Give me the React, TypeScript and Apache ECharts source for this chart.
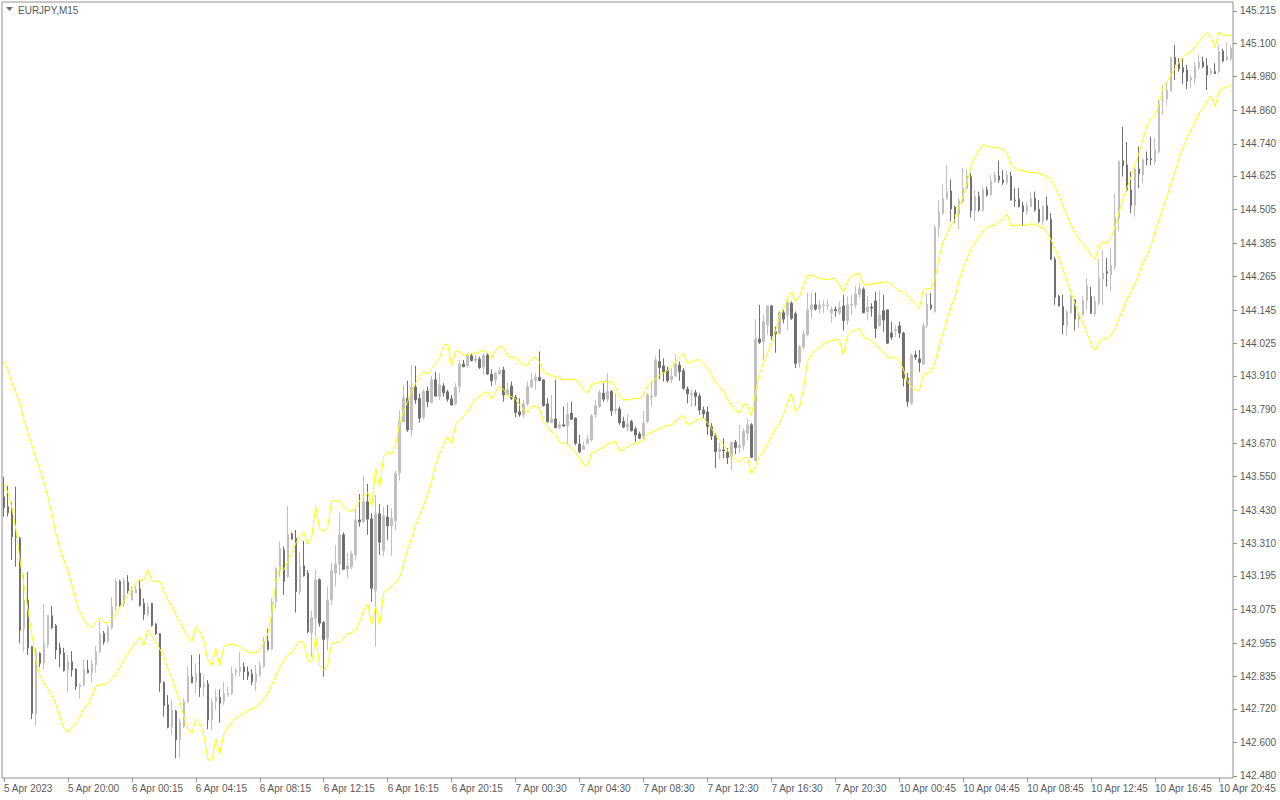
import React, { useEffect, useRef } from "react";
import * as echarts from "echarts";

// ---- Data (EURJPY, M15) ----
const opens = [
143.478,143.443,143.423,143.338,143.329,143.007,143.107,142.942,142.701,142.918,142.883,142.949,143.053,143.017,142.938,142.920,142.859,142.888,142.862,142.799,
142.804,142.859,142.849,142.878,142.924,142.990,142.963,143.009,143.085,143.175,143.095,143.173,143.109,143.135,143.149,143.097,143.058,143.097,143.023,142.988,
142.815,142.734,142.654,142.712,142.609,142.656,142.745,142.835,142.817,142.847,142.799,142.809,142.680,142.746,142.761,142.746,142.769,142.775,142.849,142.853,
142.869,142.852,142.845,142.817,142.838,142.871,142.962,142.933,143.103,143.216,143.288,143.192,143.345,143.330,143.139,143.231,143.204,142.992,143.044,143.181,
143.028,142.972,143.109,143.205,143.237,143.342,143.219,143.228,143.270,143.395,143.389,143.460,143.399,143.143,143.417,143.285,143.405,143.374,143.392,143.564,
143.747,143.830,143.717,143.870,143.830,143.762,143.856,143.815,143.896,143.836,143.874,143.853,143.828,143.810,143.872,143.953,143.946,143.982,143.965,143.970,
143.941,143.985,143.916,143.896,143.917,143.931,143.842,143.874,143.834,143.782,143.771,143.810,143.870,143.893,143.905,143.896,143.810,143.743,143.756,143.725,
143.735,143.731,143.777,143.759,143.667,143.648,143.669,143.681,143.771,143.800,143.848,143.827,143.854,143.786,143.792,143.747,143.727,143.747,143.720,143.703,
143.693,143.747,143.834,143.838,143.961,143.946,143.929,143.896,143.910,143.949,143.929,143.863,143.844,143.850,143.838,143.788,143.781,143.729,143.697,143.639,
143.645,143.636,143.622,143.673,143.654,143.661,143.705,143.735,143.607,144.042,144.033,144.092,144.160,144.068,144.063,144.136,144.128,144.170,144.132,143.958,
144.013,144.057,144.146,144.164,144.149,144.161,144.161,144.134,144.148,144.136,144.160,144.108,144.163,144.164,144.201,144.220,144.140,144.156,144.178,144.089,
144.143,144.146,144.063,144.072,144.089,144.063,143.902,143.812,143.985,143.971,143.953,144.089,144.164,144.140,144.441,144.492,144.544,144.571,144.513,144.489,
144.533,144.581,144.622,144.501,144.551,144.503,144.575,144.559,144.605,144.625,144.611,144.601,144.625,144.539,144.542,144.518,144.497,144.515,144.545,144.506,
144.462,144.518,144.470,144.327,144.194,144.158,144.089,144.136,144.182,144.113,144.128,144.179,144.194,144.132,144.170,144.256,144.283,144.271,144.301,144.474,
144.679,144.664,144.575,144.519,144.650,144.628,144.686,144.686,144.676,144.712,144.893,144.900,144.929,145.048,145.028,145.012,145.004,144.968,144.972,145.012,
145.033,145.019,144.992,144.998,144.998,145.072,145.040,145.043
];
const closes = [
143.439,143.421,143.335,143.332,143.000,143.107,142.938,142.704,142.920,142.883,142.954,143.053,143.010,142.930,142.916,142.857,142.888,142.859,142.799,142.806,
142.862,142.849,142.881,142.926,142.988,142.959,143.012,143.085,143.175,143.091,143.178,143.141,143.143,143.145,143.089,143.058,143.085,143.018,142.988,142.813,
142.732,142.654,142.716,142.609,142.673,142.745,142.835,142.813,142.845,142.797,142.809,142.680,142.742,142.761,142.740,142.775,142.778,142.847,142.857,142.869,
142.853,142.838,142.817,142.845,142.874,142.962,142.933,143.102,143.222,143.292,143.175,143.342,143.327,143.139,143.228,143.195,142.996,143.046,143.181,143.026,
142.968,143.109,143.214,143.238,143.342,143.219,143.231,143.273,143.395,143.388,143.460,143.398,143.151,143.417,143.316,143.410,143.374,143.400,143.560,143.749,
143.832,143.717,143.870,143.824,143.759,143.854,143.818,143.896,143.838,143.878,143.850,143.827,143.806,143.870,143.953,143.943,143.982,143.965,143.973,143.940,
143.985,143.917,143.893,143.920,143.929,143.842,143.860,143.830,143.779,143.771,143.810,143.872,143.896,143.905,143.893,143.804,143.747,143.756,143.725,143.735,
143.731,143.774,143.755,143.669,143.639,143.660,143.684,143.767,143.803,143.850,143.827,143.854,143.785,143.792,143.743,143.727,143.738,143.714,143.699,143.687,
143.741,143.842,143.838,143.967,143.940,143.925,143.893,143.910,143.953,143.925,143.866,143.846,143.848,143.836,143.788,143.774,143.729,143.695,143.639,143.648,
143.642,143.618,143.673,143.654,143.662,143.711,143.735,143.619,144.042,144.030,144.104,144.160,144.053,144.060,144.136,144.113,144.172,144.116,143.955,144.013,
144.060,144.146,144.164,144.149,144.164,144.164,144.164,144.149,144.143,144.156,144.108,144.164,144.165,144.203,144.223,144.136,144.156,144.152,144.080,144.128,
144.110,144.027,144.048,144.077,144.063,143.902,143.818,143.985,143.977,143.958,144.089,144.167,144.152,144.441,144.497,144.545,144.569,144.507,144.489,144.536,
144.581,144.625,144.501,144.551,144.503,144.575,144.557,144.607,144.628,144.611,144.601,144.628,144.539,144.537,144.515,144.497,144.518,144.545,144.503,144.462,
144.515,144.470,144.327,144.191,144.160,144.092,144.140,144.194,144.113,144.128,144.179,144.232,144.134,144.176,144.259,144.277,144.276,144.304,144.476,144.676,
144.662,144.575,144.519,144.650,144.633,144.682,144.683,144.683,144.718,144.893,144.897,144.932,145.048,145.024,145.008,144.996,144.964,144.976,145.016,145.033,
145.016,144.986,145.000,144.991,145.069,145.036,145.051,145.081
];
const lows = [
143.407,143.407,143.252,143.228,142.954,142.924,142.912,142.683,142.659,142.869,142.862,142.938,143.005,142.897,142.869,142.853,142.781,142.835,142.787,142.757,
142.799,142.847,142.813,142.849,142.918,142.949,142.955,143.002,143.073,143.085,143.085,143.133,143.107,143.133,143.085,143.038,143.049,143.014,142.984,142.781,
142.692,142.650,142.626,142.543,142.543,142.650,142.740,142.811,142.775,142.763,142.763,142.647,142.644,142.716,142.670,142.734,142.763,142.769,142.835,142.835,
142.823,142.823,142.805,142.785,142.835,142.865,142.928,142.930,143.079,143.192,143.127,143.187,143.324,143.064,143.127,143.192,142.990,142.906,142.978,143.014,
142.835,142.930,143.091,143.157,143.198,143.216,143.190,143.219,143.252,143.371,143.383,143.342,143.103,142.942,143.270,143.266,143.324,143.266,143.359,143.536,
143.741,143.710,143.693,143.810,143.743,143.753,143.798,143.812,143.836,143.824,143.836,143.818,143.804,143.806,143.850,143.941,143.938,143.961,143.958,143.934,
143.914,143.914,143.874,143.878,143.914,143.818,143.838,143.824,143.762,143.764,143.759,143.803,143.866,143.860,143.892,143.800,143.743,143.741,143.723,143.720,
143.729,143.667,143.753,143.663,143.634,143.645,143.667,143.675,143.759,143.795,143.818,143.818,143.767,143.774,143.735,143.723,143.711,143.711,143.675,143.684,
143.681,143.741,143.800,143.834,143.898,143.890,143.886,143.884,143.905,143.893,143.860,143.812,143.800,143.803,143.771,143.759,143.699,143.681,143.580,143.612,
143.616,143.595,143.571,143.631,143.634,143.643,143.681,143.616,143.604,144.024,143.967,144.057,144.039,143.993,144.057,144.098,144.074,144.110,143.938,143.941,
144.003,144.051,144.116,144.143,144.132,144.134,144.146,144.101,144.122,144.128,144.072,144.092,144.128,144.152,144.191,144.134,144.108,144.122,144.045,144.086,
144.068,144.024,144.039,144.048,144.045,143.872,143.800,143.806,143.967,143.925,143.949,144.081,144.146,144.136,144.406,144.485,144.539,144.462,144.458,144.434,
144.527,144.575,144.477,144.462,144.497,144.497,144.551,144.553,144.599,144.601,144.593,144.593,144.537,144.515,144.513,144.446,144.485,144.513,144.497,144.456,
144.450,144.465,144.325,144.164,144.158,144.060,144.053,144.132,144.072,144.081,144.124,144.146,144.132,144.122,144.164,144.164,144.229,144.211,144.289,144.426,
144.623,144.569,144.492,144.479,144.581,144.599,144.664,144.664,144.664,144.706,144.843,144.879,144.926,144.968,144.998,144.953,144.936,144.938,144.953,145.004,
145.010,144.932,144.986,144.989,144.992,145.031,145.036,145.036
];
const highs = [
143.550,143.517,143.456,143.514,143.335,143.198,143.210,142.945,142.938,142.922,143.094,143.055,143.087,143.023,142.956,142.938,142.912,142.926,142.865,142.811,
142.897,142.895,142.895,142.945,143.035,142.998,143.020,143.119,143.187,143.181,143.187,143.198,143.157,143.160,143.181,143.115,143.099,143.099,143.026,142.991,
142.817,142.769,142.752,142.716,142.686,142.757,142.871,142.912,142.883,142.915,142.841,142.823,142.757,142.790,142.790,142.817,142.799,142.871,142.865,142.924,
142.885,142.871,142.862,142.877,142.889,142.978,143.006,143.115,143.226,143.318,143.300,143.446,143.350,143.359,143.282,143.320,143.216,143.071,143.219,143.187,
143.034,143.157,143.242,143.306,143.421,143.350,143.276,143.285,143.434,143.488,143.553,143.524,143.419,143.485,143.452,143.443,143.449,143.437,143.571,143.788,
143.878,143.893,143.949,143.946,143.848,143.862,143.872,143.910,143.925,143.920,143.884,143.860,143.842,143.884,143.967,143.967,143.991,143.991,143.985,143.979,
143.991,143.991,143.934,143.925,143.941,143.943,143.886,143.890,143.842,143.830,143.824,143.890,143.920,143.920,143.997,143.898,143.830,143.842,143.896,143.747,
143.800,143.815,143.818,143.762,143.699,143.675,143.699,143.774,143.824,143.860,143.884,143.920,143.860,143.848,143.800,143.764,143.771,143.753,143.729,143.711,
143.786,143.848,143.890,143.982,144.006,143.973,143.943,143.938,143.985,143.961,143.938,143.872,143.860,143.860,143.848,143.800,143.800,143.741,143.705,143.671,
143.687,143.652,143.675,143.681,143.735,143.723,143.755,143.741,144.113,144.164,144.128,144.164,144.164,144.086,144.140,144.146,144.176,144.176,144.140,144.021,
144.074,144.206,144.206,144.208,144.182,144.182,144.184,144.158,144.158,144.176,144.200,144.194,144.200,144.232,144.241,144.227,144.196,144.170,144.211,144.215,
144.200,144.148,144.104,144.092,144.104,144.068,143.920,143.991,144.000,144.003,144.101,144.206,144.206,144.450,144.539,144.596,144.664,144.613,144.518,144.545,
144.653,144.649,144.635,144.575,144.569,144.587,144.587,144.628,144.640,144.680,144.646,144.644,144.640,144.581,144.581,144.533,144.533,144.569,144.569,144.539,
144.521,144.551,144.492,144.336,144.200,144.200,144.146,144.200,144.184,144.140,144.194,144.259,144.229,144.196,144.327,144.360,144.331,144.369,144.563,144.682,
144.801,144.746,144.640,144.652,144.730,144.688,144.712,144.765,144.760,144.897,144.950,144.962,145.051,145.093,145.046,145.046,145.022,144.986,145.033,145.057,
145.051,145.046,145.010,145.028,145.093,145.079,145.103,145.091
];
const upperBand = [
143.960,143.931,143.885,143.849,143.810,143.753,143.706,143.663,143.616,143.574,143.531,143.477,143.417,143.348,143.292,143.252,143.209,143.163,143.109,143.066,
143.038,143.020,143.009,143.031,143.045,143.027,143.027,143.040,143.062,143.083,143.103,143.127,143.148,143.169,143.181,143.178,143.216,143.178,143.175,143.174,
143.139,143.109,143.085,143.055,143.026,143.002,142.978,142.960,143.014,142.996,142.963,142.895,142.873,142.937,142.873,142.942,142.948,142.951,142.948,142.942,
142.930,142.924,142.920,142.920,142.928,142.954,142.988,143.062,143.169,143.226,143.216,143.246,143.276,143.312,143.335,143.351,143.309,143.335,143.443,143.362,
143.353,143.371,143.463,143.464,143.461,143.443,143.429,143.425,143.441,143.464,143.479,143.493,143.443,143.580,143.514,143.622,143.636,143.630,143.663,143.741,
143.786,143.818,143.854,143.884,143.908,143.925,143.916,143.938,143.955,143.973,144.021,144.024,143.946,143.997,143.997,143.982,143.985,143.989,143.991,143.996,
144.001,143.993,143.973,144.001,144.017,144.009,143.982,143.977,143.972,143.963,143.949,143.948,143.973,143.977,143.958,143.923,143.917,143.912,143.907,143.902,
143.896,143.898,143.898,143.896,143.884,143.862,143.848,143.881,143.881,143.888,143.890,143.887,143.891,143.872,143.834,143.824,143.824,143.828,143.829,143.830,
143.842,143.875,143.888,143.899,143.911,143.920,143.929,143.943,143.961,143.977,143.991,143.955,143.960,143.967,143.967,143.953,143.938,143.914,143.890,143.872,
143.854,143.827,143.806,143.786,143.777,143.810,143.806,143.767,143.850,143.917,143.955,143.991,144.027,144.068,144.120,144.149,144.184,144.210,144.176,144.193,
144.232,144.269,144.270,144.265,144.259,144.256,144.253,144.258,144.257,144.239,144.211,144.247,144.267,144.274,144.276,144.239,144.235,144.238,144.241,144.243,
144.246,144.246,144.239,144.224,144.214,144.210,144.200,144.182,144.165,144.150,144.217,144.222,144.223,144.259,144.336,144.390,144.420,144.449,144.470,144.518,
144.553,144.604,144.661,144.692,144.718,144.739,144.730,144.728,144.726,144.724,144.718,144.703,144.664,144.652,144.646,144.643,144.639,144.637,144.638,144.634,
144.629,144.622,144.613,144.584,144.553,144.515,144.483,144.450,144.422,144.399,144.382,144.363,144.342,144.325,144.378,144.388,144.384,144.402,144.444,144.494,
144.543,144.583,144.622,144.667,144.708,144.757,144.807,144.828,144.840,144.881,144.944,144.960,144.986,145.010,145.031,145.049,145.063,145.069,145.087,145.104,
145.123,145.139,145.119,145.084,145.139,145.131,145.126,145.129
];
const lowerBand = [
143.524,143.492,143.438,143.359,143.252,143.163,143.073,142.984,142.895,142.837,142.812,142.791,142.769,142.734,142.691,142.652,142.637,142.655,142.666,142.691,
142.723,142.734,142.766,142.802,142.805,142.805,142.813,142.828,142.845,142.868,142.895,142.918,142.940,142.956,142.976,142.945,143.002,142.980,142.960,142.933,
142.904,142.865,142.829,142.787,142.745,142.692,142.650,142.632,142.683,142.668,142.626,142.539,142.535,142.611,142.558,142.630,142.654,142.670,142.686,142.697,
142.704,142.713,142.720,142.724,142.737,142.754,142.773,142.805,142.837,142.868,142.892,142.912,142.920,142.942,142.963,142.954,142.892,142.888,142.978,142.873,
142.859,142.877,142.952,142.956,142.960,142.972,142.988,142.992,143.002,143.032,143.071,143.095,143.020,143.085,143.020,143.135,143.147,143.157,143.171,143.190,
143.238,143.288,143.331,143.377,143.413,143.449,143.488,143.532,143.592,143.631,143.663,143.693,143.667,143.735,143.750,143.767,143.782,143.806,143.827,143.838,
143.848,143.854,143.827,143.854,143.872,143.862,143.838,143.836,143.827,143.806,143.788,143.779,143.800,143.800,143.794,143.746,143.726,143.711,143.699,143.675,
143.669,143.666,143.651,143.636,143.616,143.595,143.588,143.634,143.639,143.648,143.655,143.666,143.671,143.678,143.643,143.645,143.657,143.664,143.669,143.673,
143.681,143.703,143.709,143.714,143.721,143.729,143.732,143.735,143.746,143.761,143.769,143.735,143.741,143.750,143.756,143.759,143.743,143.723,143.699,143.679,
143.663,143.645,143.627,143.612,143.603,143.617,143.619,143.559,143.586,143.621,143.639,143.667,143.693,143.717,143.741,143.770,143.812,143.848,143.782,143.794,
143.860,143.961,143.985,144.000,144.012,144.024,144.032,144.036,144.039,144.041,143.985,144.053,144.066,144.072,144.082,144.050,144.043,144.035,144.022,144.009,
143.997,143.977,143.973,143.977,143.965,143.935,143.893,143.869,143.860,143.857,143.913,143.919,143.925,143.961,144.017,144.065,144.113,144.158,144.193,144.253,
144.295,144.331,144.366,144.389,144.408,144.429,144.441,144.446,144.450,144.461,144.476,144.489,144.444,144.449,144.450,144.446,144.451,144.453,144.452,144.444,
144.439,144.422,144.396,144.363,144.327,144.289,144.247,144.208,144.167,144.128,144.098,144.062,144.024,144.000,144.032,144.041,144.045,144.056,144.080,144.114,
144.149,144.185,144.211,144.241,144.277,144.313,144.342,144.376,144.426,144.468,144.511,144.551,144.599,144.640,144.688,144.726,144.762,144.789,144.817,144.849,
144.867,144.893,144.912,144.873,144.926,144.938,144.944,144.950
];

// Time axis labels: one every 16 bars
const timeLabels = [
  "5 Apr 2023", "5 Apr 20:00", "6 Apr 00:15", "6 Apr 04:15", "6 Apr 08:15",
  "6 Apr 12:15", "6 Apr 16:15", "6 Apr 20:15", "7 Apr 00:30", "7 Apr 04:30",
  "7 Apr 08:30", "7 Apr 12:30", "7 Apr 16:30", "7 Apr 20:30", "10 Apr 00:45",
  "10 Apr 04:45", "10 Apr 08:45", "10 Apr 12:45", "10 Apr 16:45", "10 Apr 20:45",
];
const LABEL_EVERY = 16;

// Price axis labels
const priceTicks = [
  "142.480", "142.600", "142.720", "142.835", "142.955", "143.075", "143.195", "143.310",
  "143.430", "143.550", "143.670", "143.790", "143.910", "144.025", "144.145", "144.265",
  "144.385", "144.505", "144.625", "144.740", "144.860", "144.980", "145.100", "145.215",
];
const PRICE_MIN = 142.4725;
const PRICE_MAX = 145.2468;

const symbolTitle = "EURJPY,M15";

const BULL = "#c0c0c0";
const BEAR = "#707070";
const BAND = "#ffff00";
const FRAME = "#909090";
const TEXT = "#5a5a5a";

export default function App() {
  const ref = useRef<HTMLDivElement>(null);

  useEffect(() => {
    if (!ref.current) return;
    const chart = echarts.init(ref.current, undefined, { renderer: "svg" });
    const categories = opens.map((_, i) => String(i));
    const candles = opens.map((o, i) => [o, closes[i], lows[i], highs[i]]);
    const tickVals = priceTicks.map(Number);
    const showIdx = (i: number) => i % LABEL_EVERY === 0;

    chart.setOption({
      animation: false,
      backgroundColor: "#ffffff",
      grid: {
        left: 2,
        right: 47,
        top: 2,
        bottom: 22,
        show: true,
        borderColor: FRAME,
        borderWidth: 1,
        backgroundColor: "transparent",
      },
      graphic: [
        {
          type: "polygon",
          shape: { points: [[6, 7], [13, 7], [9.5, 11]] },
          style: { fill: "#707070" },
        },
        {
          type: "text",
          x: 18,
          y: 10,
          style: {
            text: symbolTitle,
            fill: TEXT,
            font: "10px 'Liberation Sans', Arial, sans-serif",
            verticalAlign: "middle",
          },
        },
      ],
      xAxis: {
        type: "category",
        data: categories,
        boundaryGap: true,
        axisLine: { show: false },
        axisTick: {
          show: true,
          interval: (i: number) => showIdx(i),
          alignWithLabel: true,
          length: 4,
          lineStyle: { color: FRAME },
        },
        axisLabel: {
          interval: (i: number) => showIdx(i),
          formatter: (_v: string, i: number) => timeLabels[Math.round(i / LABEL_EVERY)] ?? "",
          align: "left",
          margin: 5,
          color: TEXT,
          fontSize: 10,
          fontFamily: "'Liberation Sans', Arial, sans-serif",
        },
        splitLine: { show: false },
      },
      yAxis: {
        type: "value",
        position: "right",
        min: PRICE_MIN,
        max: PRICE_MAX,
        scale: true,
        axisLine: { show: false },
        splitLine: { show: false },
        axisTick: {
          show: true,
          customValues: tickVals,
          length: 4,
          lineStyle: { color: FRAME },
        },
        axisLabel: {
          customValues: tickVals,
          formatter: (v: number) => v.toFixed(3),
          margin: 7,
          color: TEXT,
          fontSize: 10,
          fontFamily: "'Liberation Sans', Arial, sans-serif",
        },
      },
      series: [
        {
          type: "candlestick",
          data: candles,
          barWidth: 2,
          itemStyle: {
            color: BULL,
            color0: BEAR,
            borderColor: BULL,
            borderColor0: BEAR,
            borderWidth: 1,
          },
          emphasis: { disabled: true },
        },
        {
          type: "line",
          data: upperBand,
          showSymbol: false,
          symbol: "none",
          lineStyle: { color: BAND, width: 1 },
          emphasis: { disabled: true },
        },
        {
          type: "line",
          data: lowerBand,
          showSymbol: false,
          symbol: "none",
          lineStyle: { color: BAND, width: 1 },
          emphasis: { disabled: true },
        },
      ],
    });
    return () => chart.dispose();
  }, []);

  return (
    <div
      ref={ref}
      style={{ position: "fixed", left: 0, top: 0, width: 1280, height: 800, background: "#fff" }}
    />
  );
}
